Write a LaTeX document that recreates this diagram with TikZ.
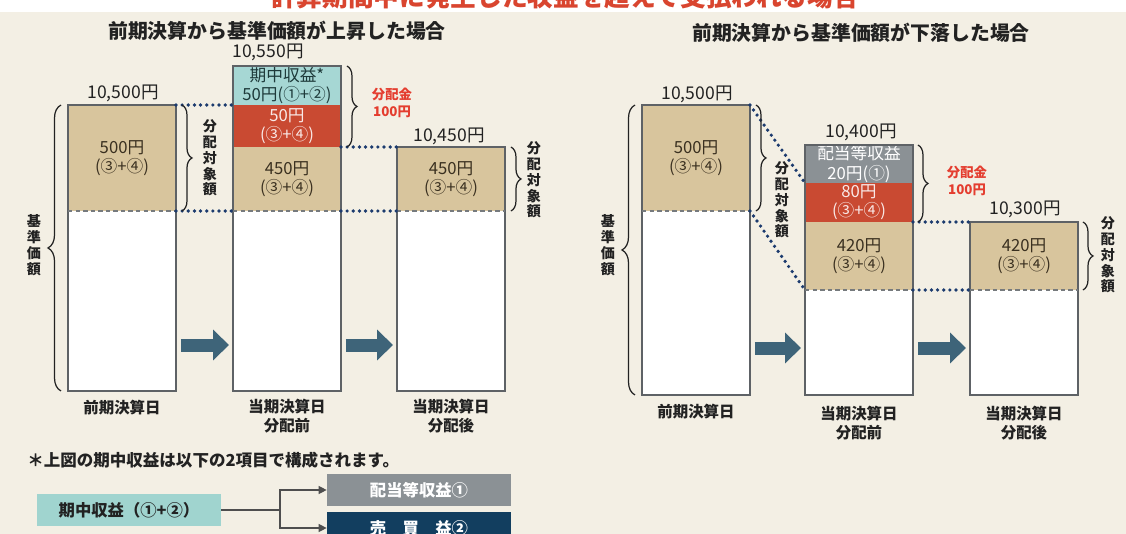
\documentclass[tikz,border=0pt]{standalone}
\usepackage{fontspec}
\setmainfont{Noto Sans CJK JP}
\usepackage{xcolor}
\usepackage{tikz}
\usetikzlibrary{positioning, arrows.meta, decorations.pathreplacing}
\definecolor{bgCream}{HTML}{F3EFE4}
\definecolor{segTan}{HTML}{D8C59D}
\definecolor{segRed}{HTML}{C94A32}
\definecolor{segTeal}{HTML}{A6D7D4}
\definecolor{legTeal}{HTML}{A0D4CF}
\definecolor{segGrey}{HTML}{8B9195}
\definecolor{segNavy}{HTML}{123E5F}
\definecolor{frameGrey}{HTML}{5E6266}
\definecolor{dotNavy}{HTML}{1C3B6E}
\definecolor{flowBlue}{HTML}{3E6479}
\definecolor{noteRed}{HTML}{E43D2F}
\definecolor{headRed}{HTML}{D9452F}
\definecolor{inkDark}{HTML}{222222}
\definecolor{inkBrown}{HTML}{3A3020}
\definecolor{inkTeal}{HTML}{1E3A3A}
\tikzset{
  seg/.style={anchor=north west, inner sep=0pt, outer sep=0pt, minimum width=2.16cm,
    align=center, font=\fontsize{9.5}{11}\selectfont},
  tanseg/.style={seg, fill=segTan, text=inkBrown},
  redseg/.style={seg, fill=segRed, text=white!88!segRed},
  tealseg/.style={seg, fill=segTeal, text=inkTeal},
  greyseg/.style={seg, fill=segGrey, text=white},
  whiteseg/.style={seg, fill=white},
  colframe/.style={draw=frameGrey, line width=0.8pt},
  cutline/.style={draw=frameGrey!85, line width=0.6pt, dash pattern=on 2.5pt off 1.8pt},
  dotlink/.style={draw=dotNavy, line width=2.1pt, line cap=round, dash pattern=on 0pt off 3.5pt},
  brc/.style={draw=inkDark, line width=0.7pt, decorate, decoration={brace, amplitude=0.2cm}},
  bigbrc/.style={brc, decoration={brace, amplitude=0.26cm}},
  flowarr/.style={draw=flowBlue, line width=0.26cm, -{Triangle[width=0.6cm, length=0.32cm]}},
}
\tikzset{
  vallbl/.style={font=\fontsize{10}{11}\selectfont, text=inkDark, inner sep=0pt},
  datelbl/.style={font=\bfseries\fontsize{8.8}{10.8}\selectfont, align=center, text=inkDark, inner sep=0pt},
  vlbl/.style={font=\bfseries\fontsize{8}{9}\selectfont, align=center, text=inkDark, inner sep=0pt},
  paylbl/.style={font=\bfseries\fontsize{7.6}{9.6}\selectfont, align=center, text=noteRed, inner sep=0pt},
  paneltitle/.style={font=\bfseries\fontsize{11.3}{13}\selectfont, text=inkDark, inner sep=0pt},
  legbox/.style={inner sep=0pt, minimum width=3.68cm, minimum height=0.64cm,
    font=\bfseries\fontsize{9.3}{10}\selectfont},
  legline/.style={draw=inkDark!80, line width=0.7pt},
  legarrow/.style={legline, -{Triangle[length=0.16cm, width=0.16cm]}},
}

\begin{document}
\begin{tikzpicture}[x=0.02cm, y=-0.02cm]
  \useasboundingbox (0,0) rectangle (1126,534);
  \clip (0,0) rectangle (1126,534);
  \fill[white] (0,0) rectangle (1126,12);
  \fill[bgCream] (0,12) rectangle (1126,534);
  \node[font=\bfseries\fontsize{14.6}{16}\selectfont, text=headRed] (maintitle) at (565,-3) {計算期間中に発生した収益を超えて支払われる場合};

  % rising case
  \node[paneltitle] (Ltitle) at (277,31) {前期決算から基準価額が上昇した場合};
  \node[tanseg, minimum height=2.12cm] (L1tan) at (68,105) {500円\\(③+④)};
  \node[whiteseg, minimum height=3.6cm] (L1wht) at (68,211) {};
  \node[tealseg, minimum height=0.78cm] (L2top) at (233,66) {期中収益*\\50円(①+②)};
  \node[redseg, minimum height=0.84cm] (L2red) at (233,105) {50円\\(③+④)};
  \node[tanseg, minimum height=1.28cm] (L2tan) at (233,147) {450円\\(③+④)};
  \node[whiteseg, minimum height=3.6cm] (L2wht) at (233,211) {};
  \node[tanseg, minimum height=1.28cm] (L3tan) at (397,147) {450円\\(③+④)};
  \node[whiteseg, minimum height=3.6cm] (L3wht) at (397,211) {};
  \draw[colframe] (L1tan.north west) rectangle (L1wht.south east);
  \draw[colframe] (L2top.north west) rectangle (L2wht.south east);
  \draw[colframe] (L3tan.north west) rectangle (L3wht.south east);
  \draw[cutline] (L1tan.south west) -- (L1tan.south east);
  \draw[cutline] (L2tan.south west) -- (L2tan.south east);
  \draw[cutline] (L3tan.south west) -- (L3tan.south east);
  \draw[dotlink] (L1tan.north east) -- (L2red.north west);
  \draw[dotlink] (L1tan.south east) -- (L2tan.south west);
  \draw[dotlink] (L2red.south east) -- (L3tan.north west);
  \draw[dotlink] (L2tan.south east) -- (L3tan.south west);
  \node[vallbl] (L1val) at (123,93) {10,500円};
  \node[vallbl] (L2val) at (268,52) {10,550円};
  \node[vallbl] (L3val) at (449,136) {10,450円};
  \draw[bigbrc] ([xshift=-0.14cm]L1wht.south west) -- ([xshift=-0.14cm]L1tan.north west);
  \draw[brc] ([xshift=0.12cm]L1tan.north east) -- ([xshift=0.12cm]L1tan.south east);
  \draw[brc] ([xshift=0.12cm]L2top.north east) -- ([xshift=0.12cm]L2red.south east);
  \draw[brc] ([xshift=0.12cm]L3tan.north east) -- ([xshift=0.12cm]L3tan.south east);
  \node[vlbl] (Lbase) at (34,245) {基\\準\\価\\額};
  \node[vlbl] (L1tgt) at (210,158) {分\\配\\対\\象\\額};
  \node[vlbl] (L3tgt) at (534,180) {分\\配\\対\\象\\額};
  \node[paylbl] (L2pay) at (392,103) {分配金\\100円};
  \coordinate (Larw) at (0,345);
  \draw[flowarr] ([xshift=0.1cm]L1wht.east |- Larw) -- ([xshift=-0.08cm]L2wht.west |- Larw);
  \draw[flowarr] ([xshift=0.1cm]L2wht.east |- Larw) -- ([xshift=-0.08cm]L3wht.west |- Larw);
  \node[datelbl] (L1date) at (122,408) {前期決算日};
  \node[datelbl] (L2date) at (287,416) {当期決算日\\分配前};
  \node[datelbl] (L3date) at (451,416) {当期決算日\\分配後};

  % falling case
  \node[paneltitle] (Rtitle) at (861,33) {前期決算から基準価額が下落した場合};
  \node[tanseg, minimum height=2.12cm] (R1tan) at (642,105) {500円\\(③+④)};
  \node[whiteseg, minimum height=3.68cm] (R1wht) at (642,211) {};
  \node[greyseg, minimum height=0.76cm] (R2top) at (805,145) {配当等収益\\20円(①)};
  \node[redseg, minimum height=0.78cm] (R2red) at (805,183) {80円\\(③+④)};
  \node[tanseg, minimum height=1.36cm] (R2tan) at (805,222) {420円\\(③+④)};
  \node[whiteseg, minimum height=2.1cm] (R2wht) at (805,290) {};
  \node[tanseg, minimum height=1.36cm] (R3tan) at (970,222) {420円\\(③+④)};
  \node[whiteseg, minimum height=2.1cm] (R3wht) at (970,290) {};
  \draw[colframe] (R1tan.north west) rectangle (R1wht.south east);
  \draw[colframe] (R2top.north west) rectangle (R2wht.south east);
  \draw[colframe] (R3tan.north west) rectangle (R3wht.south east);
  \draw[cutline] (R1tan.south west) -- (R1tan.south east);
  \draw[cutline] (R2tan.south west) -- (R2tan.south east);
  \draw[cutline] (R3tan.south west) -- (R3tan.south east);
  \draw[dotlink] (R1tan.north east) -- (R2red.north west);
  \draw[dotlink] (R1tan.south east) -- (R2tan.south west);
  \draw[dotlink] (R2red.south east) -- (R3tan.north west);
  \draw[dotlink] (R2tan.south east) -- (R3tan.south west);
  \node[vallbl] (R1val) at (697,94) {10,500円};
  \node[vallbl] (R2val) at (861,132) {10,400円};
  \node[vallbl] (R3val) at (1025,209) {10,300円};
  \draw[bigbrc] ([xshift=-0.14cm]R1wht.south west) -- ([xshift=-0.14cm]R1tan.north west);
  \draw[brc] ([xshift=0.12cm]R1tan.north east) -- ([xshift=0.12cm]R1tan.south east);
  \draw[brc] ([xshift=0.1cm]R2top.north east) -- ([xshift=0.1cm]R2red.south east);
  \draw[brc] ([xshift=0.1cm]R3tan.north east) -- ([xshift=0.1cm]R3tan.south east);
  \node[vlbl] (Rbase) at (608,245) {基\\準\\価\\額};
  \node[vlbl] (R1tgt) at (782,200) {分\\配\\対\\象\\額};
  \node[vlbl] (R3tgt) at (1108,255) {分\\配\\対\\象\\額};
  \node[paylbl] (R2pay) at (967,181) {分配金\\100円};
  \coordinate (Rarw) at (0,348);
  \draw[flowarr] ([xshift=0.1cm]R1wht.east |- Rarw) -- ([xshift=-0.08cm]R2wht.west |- Rarw);
  \draw[flowarr] ([xshift=0.1cm]R2wht.east |- Rarw) -- ([xshift=-0.08cm]R3wht.west |- Rarw);
  \node[datelbl] (R1date) at (696,412) {前期決算日};
  \node[datelbl] (R2date) at (859,423) {当期決算日\\分配前};
  \node[datelbl] (R3date) at (1024,423) {当期決算日\\分配後};

  % note and legend
  \node[anchor=west, font=\bfseries\fontsize{9.4}{11}\selectfont, text=inkDark, inner sep=0pt] (note) at (27,460) {＊上図の期中収益は以下の2項目で構成されます。};
  \node[legbox, fill=legTeal, text=inkDark] (LegIn) at (129,510) {期中収益（①+②）};
  \node[legbox, fill=segGrey, text=white] (LegDiv) at (419,490) {配当等収益①};
  \node[legbox, fill=segNavy, text=white, minimum height=0.66cm] (LegSell) at (419,528) {売　買　益②};
  \coordinate (LegJoin) at (280,510);
  \draw[legline] (LegIn.east) -- (LegJoin);
  \draw[legarrow] (LegJoin) |- (LegDiv.west);
  \draw[legarrow] (LegJoin) |- (LegSell.west);
\end{tikzpicture}
\end{document}
